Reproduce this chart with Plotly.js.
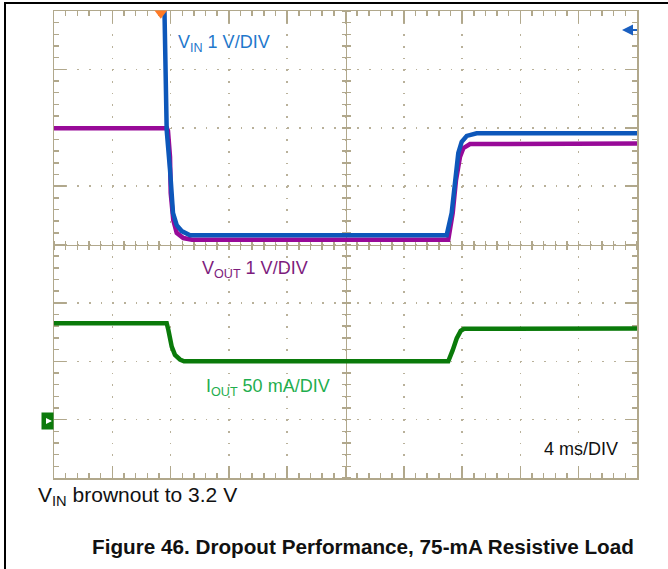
<!DOCTYPE html>
<html>
<head>
<meta charset="utf-8">
<script src="https://cdn.plot.ly/plotly-3.0.1.min.js"></script>
<style>
html,body{margin:0;padding:0;background:#fff;}
#wrap{position:relative;width:668px;height:569px;overflow:hidden;}
#chart{position:absolute;left:0;top:0;width:668px;height:569px;}
#frame{position:absolute;left:4px;top:2px;width:700px;height:600px;border-left:2px solid #000;border-top:2px solid #000;pointer-events:none;}
</style>
</head>
<body>
<div id="wrap"><div id="chart"></div><div id="frame"></div></div>
<script>
// ---- data (time and amplitude in screen divisions: 4 ms/DIV horizontally) ----
const vinT  = [0, 1.870, 1.895, 1.933, 1.990, 2.019, 2.041, 2.105, 2.190, 2.333, 6.735, 6.821, 6.878, 6.935, 6.993, 7.079, 7.250, 10];
const vinY  = [9.0, 9.0, 8.0, 5.96, 5.28, 4.88, 4.54, 4.33, 4.23, 4.16, 4.16, 4.54, 5.10, 5.57, 5.76, 5.86, 5.905, 5.905];

const voutT = [0, 1.938, 1.955, 1.990, 2.002, 2.046, 2.105, 2.218, 2.367, 6.763, 6.839, 6.895, 6.964, 7.021, 7.136, 10];
const voutY = [5.99, 5.99, 5.95, 5.50, 4.88, 4.42, 4.20, 4.11, 4.08, 4.08, 4.54, 5.10, 5.50, 5.65, 5.72, 5.73];

const ioutT = [0, 1.933, 1.961, 2.019, 2.075, 2.161, 2.230, 6.763, 6.839, 6.907, 6.976, 7.033, 10];
const ioutY = [2.65, 2.65, 2.54, 2.25, 2.11, 2.03, 2.00, 2.00, 2.19, 2.39, 2.52, 2.555, 2.56];

const triggerT = [1.832];
const triggerY = [7.96];

const labels = {
  vin: 'V<sub>IN</sub> 1 V/DIV',
  vout: 'V<sub>OUT</sub> 1 V/DIV',
  iout: 'I<sub>OUT</sub> 50 mA/DIV',
  time: '4 ms/DIV',
  note: 'V<sub>IN</sub> brownout to 3.2 V',
  caption: '<b>Figure 46. Dropout Performance, 75-mA Resistive Load</b>'
};

// ---- layout helpers ----
const L = 54, R = 637, T = 11, B = 478, W = 668, H = 569;
const px2x = p => (p - L) / (R - L);
const py2y = p => (B - p) / (B - T);

const TAN = '#b1a88c';
const GRID = '#b9b19a';
const FONT = 'Liberation Sans, Arial, sans-serif';

function mainAxis(range) {
  return {
    range: range, dtick: 1, tick0: 0, ticks: 'inside', ticklen: 12, tickwidth: 1.5, tickcolor: TAN,
    showline: true, linecolor: TAN, linewidth: 1.5, mirror: 'allticks',
    showgrid: true, gridcolor: GRID, gridwidth: 1.5, griddash: '1.5px,10.17px',
    zeroline: false, showticklabels: false, fixedrange: true, layer: 'below traces',
    minor: {dtick: 0.2, tick0: 0, ticks: 'inside', ticklen: 5, tickwidth: 1.5, tickcolor: TAN, showgrid: false}
  };
}
function centerAxis(range, side, overlay, showline) {
  return {
    range: range, dtick: 1, tick0: 0, ticks: 'outside', ticklen: 4, tickwidth: 1.5, tickcolor: TAN,
    showline: showline, linecolor: TAN, linewidth: 1.5, anchor: 'free', position: 0.5, side: side,
    overlaying: overlay, showgrid: false, zeroline: false, showticklabels: false, fixedrange: true,
    layer: 'below traces',
    minor: {dtick: 0.2, tick0: 0, ticks: 'outside', ticklen: 4, tickwidth: 1.5, tickcolor: TAN, showgrid: false}
  };
}

const traces = [
  {x: [], y: [], xaxis: 'x2', yaxis: 'y2', type: 'scatter', hoverinfo: 'skip', showlegend: false},
  {x: [], y: [], xaxis: 'x3', yaxis: 'y3', type: 'scatter', hoverinfo: 'skip', showlegend: false},
  {x: voutT, y: voutY, type: 'scatter', mode: 'lines', line: {color: '#980a98', width: 4.5}, showlegend: false},
  {x: vinT, y: vinY, type: 'scatter', mode: 'lines', line: {color: '#0d57ba', width: 4.5}, showlegend: false},
  {x: ioutT, y: ioutY, type: 'scatter', mode: 'lines', line: {color: '#0a7a0a', width: 4.5}, showlegend: false},
  {x: triggerT, y: triggerY, type: 'scatter', mode: 'markers', cliponaxis: false,
   marker: {symbol: 'triangle-down', size: 11, color: '#ff7a26', line: {width: 0}}, showlegend: false}
];

function ann(text, xpx, ypx, size, color, extra) {
  return Object.assign({
    text: text, xref: 'paper', yref: 'paper', x: px2x(xpx), y: py2y(ypx),
    xanchor: 'left', yanchor: 'middle', showarrow: false,
    font: {family: FONT, size: size, color: color}
  }, extra || {});
}
function arrowAnn(tipPx, tailPx, ypx, color, width, size) {
  return {
    text: '', xref: 'paper', yref: 'paper', x: px2x(tipPx), y: py2y(ypx),
    showarrow: true, ax: tailPx - tipPx, ay: 0, axref: 'pixel', ayref: 'pixel',
    width: 1, height: 1, borderpad: 0, font: {size: 1},
    arrowhead: 2, arrowsize: size, arrowwidth: width, arrowcolor: color, standoff: 0, startstandoff: 0
  };
}
function shaft(x0px, x1px, ypx, color, width) {
  return {type: 'line', xref: 'paper', yref: 'paper', x0: px2x(x0px), x1: px2x(x1px),
          y0: py2y(ypx), y1: py2y(ypx), line: {color: color, width: width}, layer: 'above'};
}

const layout = {
  width: W, height: H,
  margin: {l: L, r: W - R, t: T, b: H - B, pad: 0},
  paper_bgcolor: '#ffffff', plot_bgcolor: '#ffffff',
  showlegend: false,
  xaxis: mainAxis([0, 10]),
  yaxis: mainAxis([0, 8]),
  xaxis2: centerAxis([0, 10], 'bottom', 'x', true),
  xaxis3: centerAxis([0, 10], 'top', 'x', false),
  yaxis2: centerAxis([0, 8], 'left', 'y', true),
  yaxis3: centerAxis([0, 8], 'right', 'y', false),
  shapes: [
    shaft(627, 637, 30, '#1a5fc0', 2),
    shaft(45, 49, 421, '#ffffff', 1.5)
  ],
  annotations: [
    ann(labels.vin, 176, 44, 18, '#1f78cc'),
    ann(labels.vout, 200, 269, 18, '#7d1c7d'),
    ann(labels.iout, 204, 387, 18, '#1fae4e'),
    ann(labels.time, 542, 448.5, 18, '#111111'),
    ann(labels.note, 36, 496, 21, '#111111'),
    ann(labels.caption, 90, 546, 20.7, '#111111'),
    ann(' ', L, 421, 11, '#ffffff', {xanchor: 'right', bgcolor: '#0b7a0b', width: 10, height: 15, borderpad: 0.5}),
    arrowAnn(52, 45, 421, '#ffffff', 1.5, 0.8),
    arrowAnn(622, 638, 30, '#1a5fc0', 2, 1.1)
  ]
};

Plotly.newPlot('chart', traces, layout, {staticPlot: true, displayModeBar: false});
</script>
</body>
</html>
